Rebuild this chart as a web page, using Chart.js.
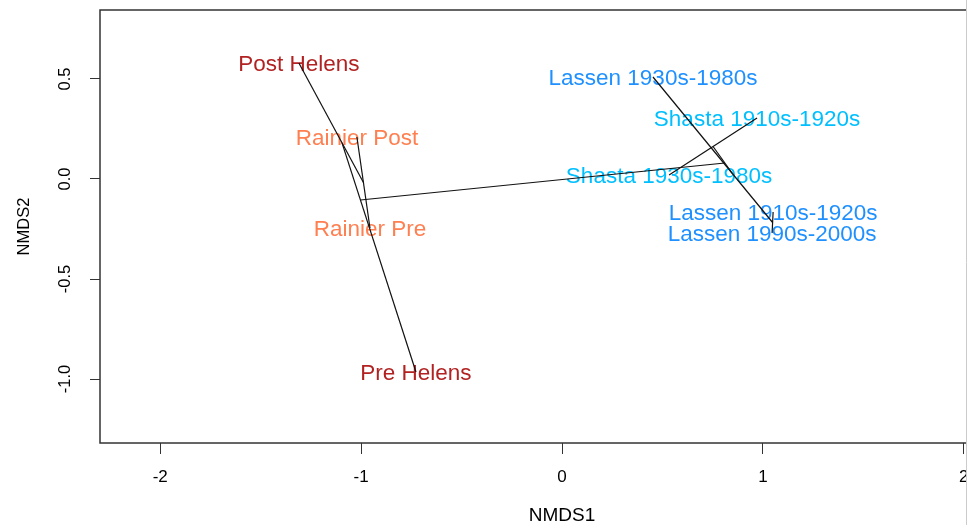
<!DOCTYPE html>
<html>
<head>
<meta charset="utf-8">
<script src="https://cdn.jsdelivr.net/npm/chart.js@4.4.0/dist/chart.umd.min.js"></script>
<style>
  html, body { margin: 0; padding: 0; background: #fff; overflow: hidden; }
  #wrap { width: 1026px; height: 525px; }
</style>
</head>
<body>
<div id="wrap"><canvas id="nmds" width="1026" height="525"></canvas></div>
<script>
// ==================== DADOS ====================
const sites = [
  "Post Helens", "Pre Helens", "Rainier Post", "Rainier Pre",
  "Lassen 1930s-1980s", "Shasta 1910s-1920s", "Shasta 1930s-1980s",
  "Lassen 1910s-1920s", "Lassen 1990s-2000s"
];
const groups = ["Helens", "Helens", "Rainier", "Rainier", "Lassen", "Shasta", "Shasta", "Lassen", "Lassen"];
const nmds1 = [-1.310, -0.727, -1.021, -0.956, 0.453, 0.971, 0.533, 1.051, 1.046];
const nmds2 = [0.580, -0.965, 0.210, -0.245, 0.510, 0.305, 0.020, -0.165, -0.270];

// hclust merge: negativo = site, positivo = fusão anterior
const merge = [[-8, -9], [-3, -4], [-6, -7], [-5, 1], [-1, 2], [3, 4], [-2, 5], [6, 7]];

const xTicks = [-2, -1, 0, 1, 2];
const yTicks = [-1.0, -0.5, 0.0, 0.5];

// ==================== ESTILO ====================
const groupColors = {
  Helens: "#B22222",
  Rainier: "#FF7F50",
  Lassen: "#1E90FF",
  Shasta: "#00BFFF",
};
const FONT = "'Liberation Sans', Arial, sans-serif";

// ==================== ORDICLUSTER ====================
// liga os dois membros de cada fusão; centróide ponderado pelo tamanho
function clusterSegments() {
  const centros = [];
  const segs = [];
  merge.forEach(([a, b]) => {
    const one = a < 0 ? { x: nmds1[-a - 1], y: nmds2[-a - 1], n: 1 } : centros[a - 1];
    const two = b < 0 ? { x: nmds1[-b - 1], y: nmds2[-b - 1], n: 1 } : centros[b - 1];
    segs.push([{ x: one.x, y: one.y }, { x: two.x, y: two.y }]);
    const n = one.n + two.n;
    centros.push({
      x: (one.x * one.n + two.x * two.n) / n,
      y: (one.y * one.n + two.y * two.n) / n,
      n: n,
    });
  });
  return segs;
}

const siteData = sites.map((s, i) => ({ x: nmds1[i], y: nmds2[i] }));

const segDatasets = clusterSegments().map((seg) => ({
  data: seg,
  showLine: true,
  borderColor: "#111",
  borderWidth: 1.2,
  pointRadius: 0,
  fill: false,
}));

// ==================== PLUGINS ====================
const siteLabels = {
  id: "siteLabels",
  beforeDatasetsDraw(chart) {
    const { ctx } = chart;
    const meta = chart.getDatasetMeta(0);
    ctx.save();
    ctx.font = `22.5px ${FONT}`;
    ctx.textAlign = "center";
    ctx.textBaseline = "middle";
    meta.data.forEach((pt, i) => {
      ctx.fillStyle = groupColors[groups[i]];
      ctx.fillText(sites[i], pt.x, pt.y + 2);
    });
    ctx.restore();
  },
};

const boxAndYLabels = {
  id: "boxAndYLabels",
  afterDraw(chart) {
    const { ctx, chartArea } = chart;
    ctx.save();
    ctx.strokeStyle = "#333";
    ctx.lineWidth = 1.5;
    ctx.strokeRect(chartArea.left, chartArea.top, chartArea.right - chartArea.left, chartArea.bottom - chartArea.top);

    // borda clara do recorte, como na imagem original
    ctx.strokeStyle = "#ccc";
    ctx.lineWidth = 1;
    ctx.beginPath();
    ctx.moveTo(966.5, 0);
    ctx.lineTo(966.5, chart.height);
    ctx.stroke();

    const y = chart.scales.y;
    ctx.fillStyle = "#000";
    ctx.font = `16.5px ${FONT}`;
    ctx.textAlign = "center";
    ctx.textBaseline = "middle";
    y.ticks.forEach((t) => {
      ctx.save();
      ctx.translate(chartArea.left - 35, y.getPixelForValue(t.value));
      ctx.rotate(-Math.PI / 2);
      ctx.fillText(t.value.toFixed(1), 0, 0);
      ctx.restore();
    });
    ctx.restore();
  },
};

// ==================== GRÁFICO ====================
new Chart(document.getElementById("nmds"), {
  type: "scatter",
  data: {
    datasets: [
      { data: siteData, pointRadius: 0, showLine: false },
      ...segDatasets,
    ],
  },
  options: {
    responsive: false,
    animation: false,
    events: [],
    layout: { padding: { top: 10, right: 2, left: 0, bottom: 0 } },
    plugins: { legend: { display: false }, tooltip: { enabled: false } },
    scales: {
      x: {
        type: "linear",
        min: -2.3,
        max: 2.3,
        afterBuildTicks: (s) => { s.ticks = xTicks.map((v) => ({ value: v })); },
        afterFit: (s) => { s.height = 82; },
        grid: { drawOnChartArea: false, drawTicks: true, tickLength: 11, color: "#333", lineWidth: 1 },
        border: { display: false },
        ticks: {
          color: "#000",
          padding: 13,
          font: { family: FONT, size: 17 },
          maxRotation: 0,
          callback: (v) => String(v),
        },
        title: {
          display: true,
          text: "NMDS1",
          color: "#000",
          font: { family: FONT, size: 19, lineHeight: 1 },
          padding: { top: 0, bottom: 0 },
        },
      },
      y: {
        type: "linear",
        min: -1.32,
        max: 0.845,
        afterBuildTicks: (s) => { s.ticks = yTicks.map((v) => ({ value: v })); },
        afterFit: (s) => { s.width = 100; },
        grid: { drawOnChartArea: false, drawTicks: true, tickLength: 10, color: "#333", lineWidth: 1 },
        border: { display: false },
        ticks: { display: false },
        title: {
          display: true,
          text: "NMDS2",
          color: "#000",
          font: { family: FONT, size: 16.5 },
          padding: { top: 15, bottom: 0 },
        },
      },
    },
  },
  plugins: [siteLabels, boxAndYLabels],
});
</script>
</body>
</html>
